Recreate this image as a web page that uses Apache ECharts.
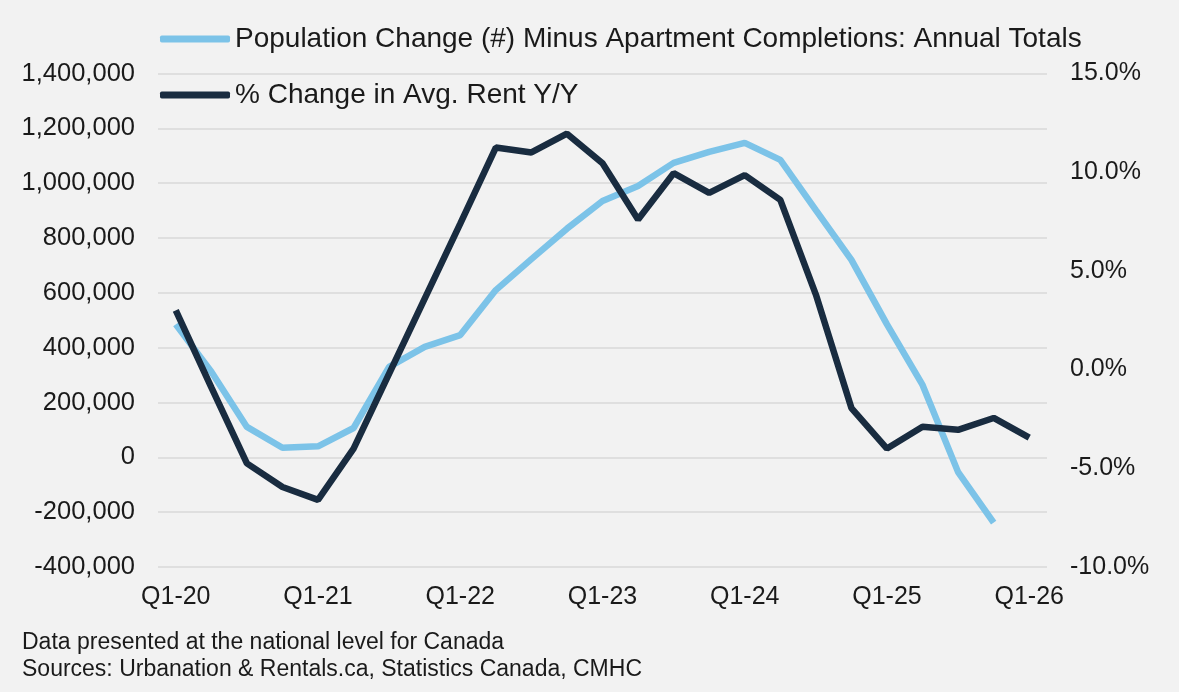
<!DOCTYPE html>
<html>
<head>
<meta charset="utf-8">
<script src="https://cdn.jsdelivr.net/npm/echarts@6/dist/echarts.min.js"></script>
<style>
html,body{margin:0;padding:0;background:#f2f2f2;}
#chart{width:1179px;height:692px;}
</style>
</head>
<body>
<div id="chart"></div>
<script>
var categories = ['Q1-20','Q2-20','Q3-20','Q4-20','Q1-21','Q2-21','Q3-21','Q4-21',
  'Q1-22','Q2-22','Q3-22','Q4-22','Q1-23','Q2-23','Q3-23','Q4-23',
  'Q1-24','Q2-24','Q3-24','Q4-24','Q1-25','Q2-25','Q3-25','Q4-25','Q1-26'];
var populationMinusCompletions = [485000, 312000, 111000, 35000, 40000, 107000, 330000, 403000,
  446000, 610000, 723000, 834000, 935000, 990000, 1074000, 1114000,
  1147000, 1085000, 902000, 720000, 485000, 264000, -54000, -238000, null];
var rentChangePct = [3.0, -0.9, -4.75, -5.95, -6.6, -4.0, -0.2, 3.6,
  7.4, 11.25, 11.0, 11.95, 10.45, 7.6, 9.95, 8.95,
  9.85, 8.6, 3.8, -1.95, -4.0, -2.9, -3.05, -2.45, -3.45];
var seriesNames = ['Population Change (#) Minus Apartment Completions: Annual Totals', '% Change in Avg. Rent Y/Y'];
var footnotes = ['Data presented at the national level for Canada', 'Sources: Urbanation & Rentals.ca, Statistics Canada, CMHC'];

var FONT = '"Liberation Sans", Arial, Helvetica, sans-serif';
var chart = echarts.init(document.getElementById('chart'), null, {renderer: 'canvas'});
chart.setOption({
  backgroundColor: '#f2f2f2',
  animation: false,
  textStyle: {fontFamily: FONT},
  grid: {left: 158, right: 132, top: 73.5, bottom: 125, containLabel: false},
  legend: {
    orient: 'vertical',
    left: 155,
    top: 19,
    itemWidth: 70,
    itemHeight: 7,
    itemGap: 26,
    icon: 'roundRect',
    textStyle: {fontSize: 28, color: '#1a1a1a', fontFamily: FONT, lineHeight: 30},
    data: seriesNames
  },
  xAxis: {
    type: 'category',
    data: categories,
    boundaryGap: true,
    axisLine: {show: false},
    axisTick: {show: false},
    axisLabel: {interval: 3, fontSize: 25, color: '#1a1a1a', fontFamily: FONT, margin: 18}
  },
  yAxis: [{
    type: 'value',
    min: -400000, max: 1400000, interval: 200000,
    axisLine: {show: false}, axisTick: {show: false},
    splitLine: {lineStyle: {color: '#d9d9d9', width: 1.5}},
    axisLabel: {fontSize: 25.5, color: '#1a1a1a', fontFamily: FONT, margin: 23,
      formatter: function (v) { return v.toLocaleString('en-US'); }}
  }, {
    type: 'value',
    min: -10, max: 15, interval: 5,
    axisLine: {show: false}, axisTick: {show: false},
    splitLine: {show: false},
    axisLabel: {fontSize: 25, color: '#1a1a1a', fontFamily: FONT, margin: 23,
      formatter: function (v) { return v.toFixed(1) + '%'; }}
  }],
  series: [{
    name: seriesNames[0],
    type: 'line',
    yAxisIndex: 0,
    data: populationMinusCompletions,
    symbol: 'none',
    color: '#7cc3e8',
    lineStyle: {width: 6.5, color: '#7cc3e8'}
  }, {
    name: seriesNames[1],
    type: 'line',
    yAxisIndex: 1,
    data: rentChangePct,
    symbol: 'none',
    color: '#192c40',
    lineStyle: {width: 6.5, color: '#192c40'}
  }],
  graphic: [{
    type: 'text', left: 22, top: 631,
    style: {text: footnotes[0], font: '23px ' + FONT, fill: '#1a1a1a'}
  }, {
    type: 'text', left: 22, top: 658,
    style: {text: footnotes[1], font: '23px ' + FONT, fill: '#1a1a1a'}
  }]
});
</script>
</body>
</html>
